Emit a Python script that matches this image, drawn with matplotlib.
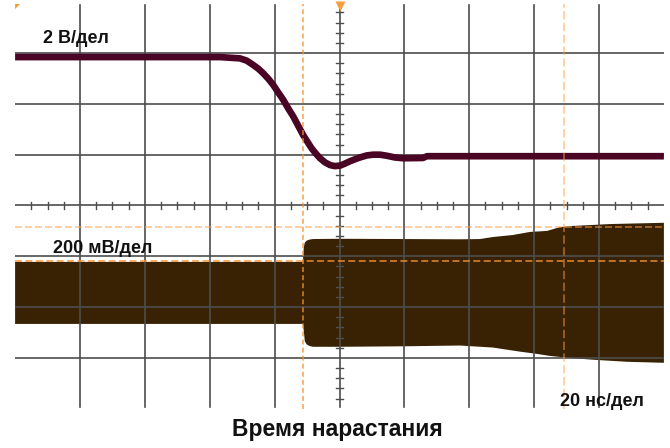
import matplotlib
matplotlib.use("Agg")
from matplotlib import pyplot as plt
import numpy as np

plt.rcParams['font.family'] = ['Liberation Sans', 'DejaVu Sans']
plt.rcParams['lines.scale_dashes'] = False

# time axis in ns, 20 ns/div, 10 div
ns_per_div = 20
# CH1: 2 V/div, zero level at +0.97 div
ch1_scale = 2.0
ch1_zero = 0.97
t1 = [-100, -60, -36.8, -30.7, -28.6, -26.6, -25.0, -23.5, -21.9, -20.4, -18.9,
      -17.3, -15.8, -14.2, -12.7, -11.2, -9.9, -8.6, -7.2, -6.0, -4.5, -2.9,
      -1.4, 0.2, 1.7, 3.2, 4.8, 6.3, 8.4, 10.4, 12.5, 14.5, 17.1, 19.7, 25.7,
      27.0, 60, 100]
v1 = [3.90, 3.90, 3.90, 3.85, 3.76, 3.59, 3.44, 3.26, 3.04, 2.80, 2.51,
      2.21, 1.88, 1.55, 1.19, 0.83, 0.57, 0.31, 0.09, -0.08, -0.24, -0.35,
      -0.39, -0.37, -0.29, -0.20, -0.12, -0.05, 0.03, 0.06, 0.06, 0.02, -0.05,
      -0.08, -0.07, 0.0, 0.0, 0.0]

# CH2: 200 mV/div, envelope of the HF signal, zero at -1.72 div
ch2_scale = 200.0
ch2_zero = -1.72
t2_top = [-100, -11.3, -11.0, -10.7, -10.1, -9.2, -8.2, 0, 20, 37.1, 43.3,
          47.3, 53.5, 58.7, 64.0, 68.0, 71.1, 83.4, 100]
mv2_top = [122, 122, 180, 198, 206, 210, 212, 213, 212, 211, 212,
           220, 228, 240, 244, 259, 263, 271, 276]
t2_bot = [-100, -11.3, -11.0, -10.7, -10.1, -9.2, -8.2, 0, 20, 37.1, 47.3,
          55.6, 60.9, 64.9, 71.1, 78.2, 88.6, 100]
mv2_bot = [-122, -122, -150, -190, -203, -209, -212, -212, -210, -207, -215,
           -231, -240, -248, -256, -263, -271, -275]

# cursors
cursor_t = [-11.25, 69.2]
cursor_mv = [126, 259]

fig = plt.figure(figsize=(6.7, 4.48), dpi=100)
ax = fig.add_axes([15.1 / 670, 1 - 408.8 / 448, 648.8 / 670, 406.6 / 448])
ax.set_xlim(-100, 100)
ax.set_ylim(-4, 4)
ax.axis('off')

# CH2 band
up = np.array(mv2_top) / ch2_scale + ch2_zero
lo = np.array(mv2_bot) / ch2_scale + ch2_zero
ax.fill(np.r_[t2_top, t2_bot[::-1]], np.r_[up, lo[::-1]],
        color='#392204', lw=0, zorder=2)

# graticule
grid_c = '#4d4d4d'
for k in range(-4, 5):
    if k == 0:
        continue
    ax.plot([k * ns_per_div] * 2, [-3.96, 3.94], color=grid_c, lw=1.2, zorder=3)
for k in range(-3, 4):
    ax.plot([-100, 100], [k, k], color=grid_c, lw=1.2, zorder=3)
ax.plot([0, 0], [-3.96, 3.94], color=grid_c, lw=1.2, zorder=3)
# minor ticks on centre lines
for x in np.arange(-95, 100, 5):
    if x % 20 == 0:
        continue
    ax.plot([x, x], [-0.06, 0.06], color=grid_c, lw=1.0, zorder=3)
for y in np.arange(-3.8, 4.0, 0.2):
    if abs(y - round(y)) < 1e-6:
        continue
    ax.plot([-1.1, 1.1], [y, y], color=grid_c, lw=1.0, zorder=3)

# CH1 trace
ax.plot(t1, np.array(v1) / ch1_scale + ch1_zero, color='#4a0524', lw=4.8,
        solid_capstyle='butt', solid_joinstyle='round', zorder=4)

# cursors
ax.plot([cursor_t[0]] * 2, [-4, 3.97], color='#f5922e', alpha=0.85, lw=1.1,
        dashes=(3.6, 2.2), zorder=5)
ax.plot([cursor_t[1]] * 2, [-4, 3.97], color='#ffa040', alpha=0.55, lw=1.2,
        dashes=(6, 2.5), zorder=5)
ax.plot([-100, 100], [cursor_mv[0] / ch2_scale + ch2_zero] * 2, color='#f39030',
        alpha=0.8, lw=1.3, dashes=(5, 2.5), zorder=5)
ax.plot([-100, 100], [cursor_mv[1] / ch2_scale + ch2_zero] * 2, color='#ffa040',
        alpha=0.6, lw=1.2, dashes=(5, 2.2), zorder=5)

# markers
ax.plot([0], [3.93], marker='v', ms=7, color='#f5a040', mec='none',
        clip_on=False, zorder=6)
ax.fill([-100, -98.5, -100], [3.964, 3.964, 3.866], color='#f59a30', lw=0,
        clip_on=False, zorder=6)

# labels
ax.text(-91.4, 3.191, '2 В/дел', fontsize=13, fontweight='bold',
        color='#111111', ha='left', va='baseline', zorder=7)
ax.text(-88.3, -0.928, '200 мВ/дел', fontsize=13, fontweight='bold',
        color='#111111', ha='left', va='baseline', zorder=7)
ax.text(68.0, -3.945, '20 нс/дел', fontsize=13, fontweight='bold',
        color='#111111', ha='left', va='baseline', zorder=7)
fig.text(0.503, 1 - 436 / 448, 'Время нарастания', fontsize=16.5,
         fontweight='bold', color='#111111', ha='center', va='baseline')

fig.savefig('out.png', dpi=100)
